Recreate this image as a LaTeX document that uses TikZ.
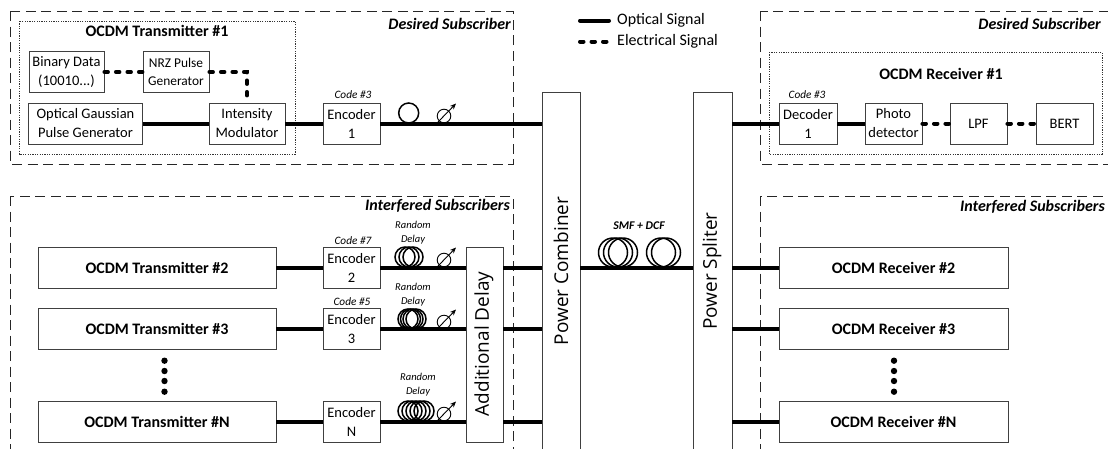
\documentclass[tikz,border=0pt]{standalone}
\usepackage{fontspec}
\usetikzlibrary{arrows.meta}
\setmainfont{Carlito}
\newfontfamily\widefont{Open Sans}
\begin{document}
\begin{tikzpicture}[x=1pt,y=-1pt,
          every node/.style = {align=center, inner sep=0pt, font=\fontsize{14.5}{19}\selectfont},
          block/.style 2 args = {shape=rectangle, draw=black!75, line width=0.9pt, fill=white,
            minimum width=#1pt, minimum height=#2pt},
          tall/.style = {font=\widefont\fontsize{19}{22}\selectfont, rotate=90},
          boldtext/.style = {font=\bfseries\fontsize{16}{19}\selectfont},
          group/.style = {font=\bfseries\itshape\fontsize{16}{19}\selectfont, anchor=east},
          small/.style = {font=\itshape\fontsize{11.3}{13}\selectfont},
          tiny/.style = {font=\itshape\fontsize{10.5}{14}\selectfont},
          optical/.style = {line width=4pt},
          electrical/.style = {line width=4pt, line cap=round, dash pattern=on 3.5pt off 8pt},
          subscriber/.style = {draw=black!85, line width=0.8pt, dash pattern=on 10pt off 5.5pt},
          unit/.style = {draw=black!80, line width=0.9pt, dash pattern=on 1.2pt off 1.2pt},
          coil/.style = {draw=black, line width=1.5pt},
          attenuate/.style = {draw=black, line width=0.9pt, -{Stealth[length=6pt,width=5pt]}}]
  \useasboundingbox (0,0) rectangle (1108,448);
  \clip (0,0) rectangle (1108,448);

  % subscriber frames
  \draw[subscriber] (10,11) rectangle (513,164);
  \draw[subscriber] (10,196) rectangle (513,470);
  \draw[subscriber] (760,11) rectangle (1130,164);
  \draw[subscriber] (760,196) rectangle (1130,470);
  \draw[unit] (19,21) rectangle (295,154);
  \draw[unit] (769,52) rectangle (1102,154);

  \node[group] (desiredtx) at (511,24) {Desired Subscriber};
  \node[group] (desiredrx) at (1101,24) {Desired Subscriber};
  \node[group] (interfertx) at (510,206) {Interfered Subscribers};
  \node[group] (interferrx) at (1105,207) {Interfered Subscribers};

  % legend
  \coordinate (legopta) at (580,20.5);
  \coordinate (legoptb) at (609,20.5);
  \coordinate (legela) at (580,41.5);
  \coordinate (legelb) at (610,41.5);
  \draw[optical, line cap=round] (legopta) -- (legoptb);
  \draw[electrical] (legela) -- (legelb);
  \node[anchor=west, font=\fontsize{16}{19}\selectfont] (legopt) at (617,20) {Optical Signal};
  \node[anchor=west, font=\fontsize{16}{19}\selectfont] (legel) at (617,41) {Electrical Signal};

  % transmitter #1
  \node[boldtext] (txone) at (157,31) {OCDM Transmitter \#1};
  \node[block={75}{41}] (binary) at (66.5,72) {Binary Data\\(10010...)};
  \node[block={66}{41}, font=\fontsize{13.4}{17.5}\selectfont] (nrz) at (176,72) {NRZ Pulse\\Generator};
  \node[block={114}{41}] (gauss) at (85.5,123.5) {Optical Gaussian\\Pulse Generator};
  \node[block={76}{41}] (modul) at (247,123.5) {Intensity\\Modulator};
  \node[block={57}{41}] (encone) at (351.5,123.5) {Encoder\\1};
  \node[small] (codeone) at (353,95) {Code \#3};

  % shared parts
  \node[block={38}{380}] (combiner) at (561,282) {};
  \node[block={39}{380}] (spliter) at (712.5,282) {};
  \node[tall] (combinertext) at (561,271) {Power Combiner};
  \node[tall] (splitertext) at (712,271) {Power Spliter};
  \node[block={37}{195}] (addelay) at (484.5,344.5) {};
  \node[tall] (addelaytext) at (484,344) {Additional Delay};

  % receiver #1
  \node[boldtext] (rxone) at (941,74) {OCDM Receiver \#1};
  \node[block={58}{41}] (decone) at (808,123.5) {Decoder\\1};
  \node[block={57}{41}] (photo) at (893.5,123.5) {Photo\\detector};
  \node[block={57}{41}] (lpf) at (978.5,123.5) {LPF};
  \node[block={57}{41}] (bert) at (1064.5,123.5) {BERT};
  \node[small] (codedec) at (807,95) {Code \#3};

  % other subscribers
  \node[block={238}{41}, boldtext] (txtwo) at (157,267.5) {OCDM Transmitter \#2};
  \node[block={238}{41}, boldtext] (txthree) at (157,329) {OCDM Transmitter \#3};
  \node[block={238}{41}, boldtext] (txn) at (157,421.5) {OCDM Transmitter \#N};
  \node[block={57}{41}] (enctwo) at (351.5,267.5) {Encoder\\2};
  \node[block={57}{41}] (encthree) at (351.5,329) {Encoder\\3};
  \node[block={57}{41}] (encn) at (351.5,421.5) {Encoder\\N};
  \node[small] (codetwo) at (353,241) {Code \#7};
  \node[small] (codethree) at (352,302) {Code \#5};
  \node[block={229}{41}, boldtext] (rxtwo) at (893.5,267.5) {OCDM Receiver \#2};
  \node[block={229}{41}, boldtext] (rxthree) at (893.5,329) {OCDM Receiver \#3};
  \node[block={229}{41}, boldtext] (rxn) at (893.5,421.5) {OCDM Receiver \#N};

  % optical links
  \draw[optical] (gauss) -- (modul);
  \draw[optical] (modul) -- (encone);
  \draw[optical] (encone) -- (encone -| combiner.west);
  \draw[optical] (spliter.east |- decone) -- (decone);
  \draw[optical] (decone) -- (photo);
  \foreach \tx/\enc/\rx in {txtwo/enctwo/rxtwo, txthree/encthree/rxthree, txn/encn/rxn} {
    \draw[optical] (\tx) -- (\enc);
    \draw[optical] (\enc) -- (\enc -| addelay.west);
    \draw[optical] (addelay.east |- \enc) -- (\enc -| combiner.west);
    \draw[optical] (spliter.east |- \rx) -- (\rx);
  }
  \draw[optical] (combiner.east |- txtwo) -- (spliter.west |- txtwo);

  % electrical links
  \draw[electrical] (binary) -- (nrz);
  \draw[electrical] (nrz.east) -| (modul.north);
  \draw[electrical] (photo) -- (lpf);
  \draw[electrical] (lpf) -- (bert);

  % fibre coils
  \draw[coil] (408.7,113) circle (10);
  \foreach \cx in {405,409,413} \draw[coil] (\cx,257) circle (10);
  \foreach \cx in {408,410.5,413,416} \draw[coil] (\cx,319) circle (10);
  \foreach \cx in {408,412,416,420,424} \draw[coil] (\cx,411) circle (10);
  \foreach \cx in {613,618,623} \draw[coil] (\cx,252.5) circle (14.5);
  \foreach \cx in {661,666} \draw[coil] (\cx,252.5) circle (14.5);
  \node[font=\bfseries\itshape\fontsize{11.8}{13}\selectfont] (fibre) at (639,226) {SMF + DCF};
  \node[tiny] (randtwo) at (413,233) {Random\\Delay};
  \node[tiny] (randthree) at (413,295) {Random\\Delay};
  \node[tiny] (randn) at (418,385) {Random\\Delay};

  % attenuators
  \foreach \ax/\ay in {444/116, 444/260, 444/322, 444/414} {
    \draw[black, line width=0.9pt] (\ax,\ay) circle (6.8);
    \draw[attenuate] (\ax-6,\ay+6) -- (\ax+12,\ay-12.5);
  }

  % dots
  \foreach \dy in {360.7,371,381,391.7} {
    \fill (164.5,\dy) circle (3.2);
    \fill (894,\dy) circle (3.2);
  }
\end{tikzpicture}
\end{document}
